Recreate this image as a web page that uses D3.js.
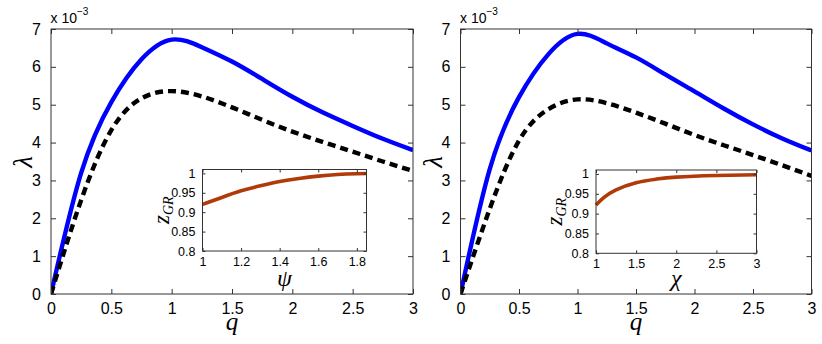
<!DOCTYPE html>
<html><head><meta charset="utf-8">
<script src="https://cdn.jsdelivr.net/npm/d3@7"></script>
<style>body{margin:0;background:#fff}svg{display:block}</style>
</head><body>
<svg id="c" width="822" height="344"></svg>
<script>
// ---- data ----
const qVals = [0,0.25,0.5,0.75,1,1.25,1.5,1.75,2,2.25,2.5,2.75,3];
const leftSolid   = [0,3.2,5.07,6.2,6.72,6.52,6.14,5.68,5.21,4.8,4.44,4.1,3.8];
const leftDashed  = [0,2.48,4.33,5.17,5.36,5.22,4.93,4.6,4.29,4.02,3.76,3.5,3.25];
const rightSolid  = [0,3.3,5.2,6.33,6.87,6.62,6.25,5.8,5.35,4.9,4.48,4.11,3.79];
const rightDashed = [0,2.25,4.05,4.88,5.14,5.04,4.79,4.5,4.2,3.93,3.67,3.4,3.12];
const psiVals = [1,1.1,1.2,1.3,1.4,1.5,1.6,1.7,1.8,1.85];
const zPsi    = [0.92,0.938,0.955,0.968,0.979,0.987,0.993,0.997,0.999,0.9995];
const chiVals = [1,1.1,1.25,1.5,1.75,2,2.5,3];
const zChi    = [0.922,0.941,0.96,0.978,0.987,0.992,0.996,0.998];
const mainYTicks = [0,1,2,3,4,5,6,7];
const mainXTicks = [0,0.5,1,1.5,2,2.5,3];
const insetYTicks = [0.8,0.85,0.9,0.95,1];
const psiTicks = [1,1.2,1.4,1.6,1.8];
const chiTicks = [1,1.5,2,2.5,3];

const svg = d3.select("#c");
const SANS = "'Liberation Sans', Arial, sans-serif";
const SERIF = "'Liberation Serif', 'DejaVu Serif', serif";
const AX = "#333";

function fmt(d){ return String(+d.toFixed(2)); }

function frame(g, x, y, xt, yt, tick, fs){
  const [x0,x1] = x.range(), [y0,y1] = y.range(); // y0 bottom
  g.append("rect").attr("x",x0).attr("y",y1).attr("width",x1-x0).attr("height",y0-y1)
    .attr("fill","#fff");
  return {
    decorate(){
      const ax = [
        [d3.axisBottom(x).tickValues(xt).tickFormat(fmt), 0, y0],
        [d3.axisTop(x).tickValues(xt).tickFormat(""), 0, y1],
        [d3.axisLeft(y).tickValues(yt).tickFormat(fmt), x0, 0],
        [d3.axisRight(y).tickValues(yt).tickFormat(""), x1, 0]
      ];
      ax.forEach(([a,tx,ty],i)=>{
        a.tickSizeInner(-tick).tickSizeOuter(0).tickPadding(i===0? tick+(fs>13?4:3) : tick+(fs>13?5:4));
        const gg = g.append("g").attr("transform",`translate(${tx},${ty})`).call(a);
        gg.select(".domain").remove();
        gg.selectAll(".tick line").attr("stroke",AX).attr("stroke-width",1);
        gg.selectAll(".tick text").attr("font-family",SANS).attr("font-size",fs).attr("fill","#000");
      });
      g.append("rect").attr("x",x0).attr("y",y1).attr("width",x1-x0).attr("height",y0-y1)
        .attr("fill","none").attr("stroke",AX).attr("stroke-width",1);
    }
  };
}

function panel(opts){
  const g = svg.append("g");
  const x = d3.scaleLinear().domain([0,3]).range([opts.x0,opts.x1]);
  const y = d3.scaleLinear().domain([0,7]).range([294,29]);
  const f = frame(g,x,y,mainXTicks,mainYTicks,5,16);
  const line = d3.line().x((d,i)=>x(qVals[i])).y(d=>y(d)).curve(d3.curveNatural);
  const clip = "clip"+opts.id;
  g.append("clipPath").attr("id",clip).append("rect").attr("x",opts.x0).attr("y",29)
    .attr("width",opts.x1-opts.x0).attr("height",265);
  g.append("path").attr("d",line(opts.solid)).attr("fill","none").attr("stroke","#0000ff")
    .attr("stroke-width",4.4).attr("clip-path",`url(#${clip})`);
  g.append("path").attr("d",line(opts.dashed)).attr("fill","none").attr("stroke","#000")
    .attr("stroke-width",4.4).attr("stroke-dasharray","8,5").attr("clip-path",`url(#${clip})`);
  f.decorate();
  // exponent
  const t = g.append("text").attr("x",opts.x0-0.5).attr("y",23).attr("font-family",SANS)
    .attr("font-size",14).attr("fill","#000");
  t.append("tspan").text("x 10");
  t.append("tspan").attr("dy",-8).attr("font-size",10).text("\u22123");
  // labels
  g.append("text").attr("transform",`translate(${opts.x0-19},162) rotate(-90)`)
    .attr("text-anchor","middle").attr("font-family",SERIF).attr("font-style","italic")
    .attr("font-size",27).text("\u03BB");
  g.append("text").attr("x",(opts.x0+opts.x1)/2).attr("y",330).attr("text-anchor","middle")
    .attr("font-family",SERIF).attr("font-style","italic").attr("font-size",25).text("q");

  // inset
  const ig = svg.append("g");
  const ix = d3.scaleLinear().domain(opts.idom).range([opts.ix0,opts.ix1]);
  const iy = d3.scaleLinear().domain([0.8,1.01]).range([opts.iy1, opts.iy0]);
  const fi = frame(ig,ix,iy,opts.iticks,insetYTicks,3,12.5);
  const iline = d3.line().x((d,i)=>ix(opts.ix[i])).y(d=>iy(d)).curve(d3.curveNatural);
  ig.append("path").attr("d",iline(opts.iz)).attr("fill","none").attr("stroke","#b03a08")
    .attr("stroke-width",3.6);
  fi.decorate();
  ig.append("text").attr("x",(opts.ix0+opts.ix1)/2).attr("y",286).attr("text-anchor","middle")
    .attr("font-family",SERIF).attr("font-style","italic").attr("font-size",24).text(opts.ilabel);
  const zt = ig.append("text").attr("transform",`translate(${opts.ix0-34},${(opts.iy0+opts.iy1)/2}) rotate(-90)`)
    .attr("text-anchor","middle").attr("font-family",SERIF).attr("font-style","italic").attr("font-size",23);
  zt.append("tspan").text("z");
  zt.append("tspan").attr("dy",4).attr("font-size",14).text("GR");
}

panel({id:"L",x0:51,x1:413,solid:leftSolid,dashed:leftDashed,
  idom:[1,1.85],ix0:202.5,ix1:366.5,iy0:169.5,iy1:251,iticks:psiTicks,ix:psiVals,iz:zPsi,ilabel:"\u03C8"});
panel({id:"R",x0:460.5,x1:811.5,solid:rightSolid,dashed:rightDashed,
  idom:[1,3],ix0:596,ix1:756.5,iy0:170,iy1:253.3,iticks:chiTicks,ix:chiVals,iz:zChi,ilabel:"\u03C7"});
</script>
</body></html>
